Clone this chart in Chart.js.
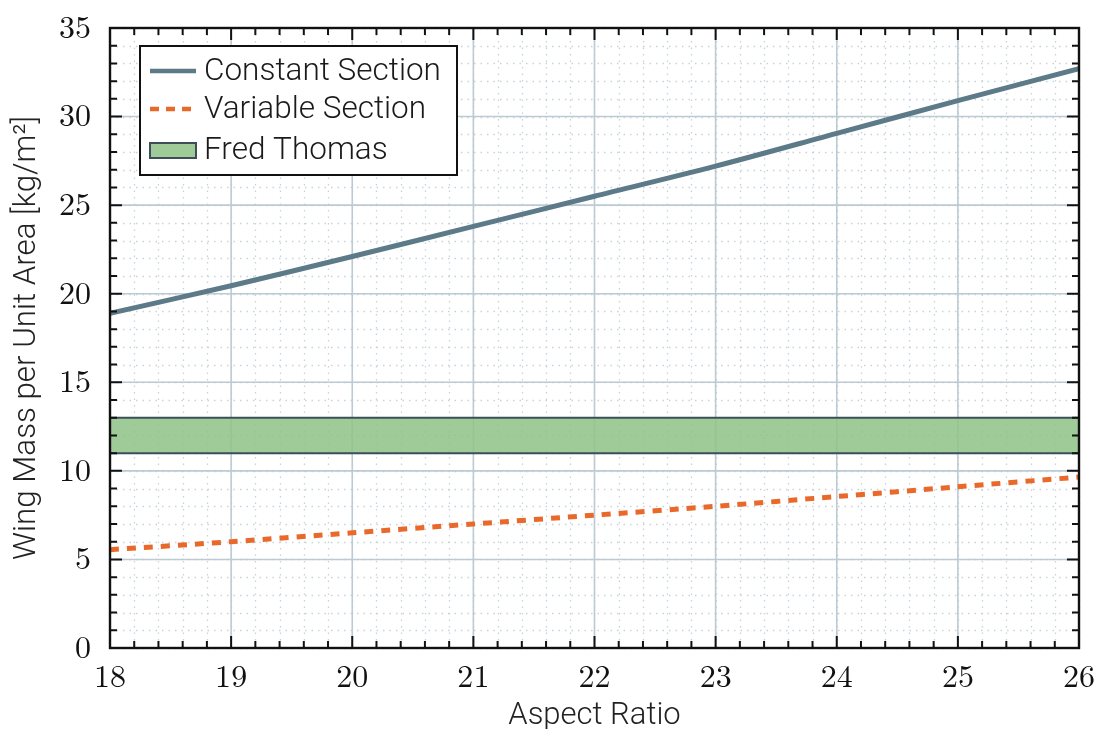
<!DOCTYPE html>
<html>
<head>
<meta charset="utf-8">
<script src="https://cdn.jsdelivr.net/npm/chart.js@4.4.1/dist/chart.umd.min.js"></script>
<style>
	html, body { margin: 0; padding: 0; background: #fff; }
	#wrap { width: 1097px; height: 729px; }
</style>
</head>
<body>
<div id="wrap"><canvas id="wingChart"></canvas></div>
<script>
const aspectRatio = [ 18, 19, 20, 21, 22, 23, 24, 25, 26 ]
const constantSection = [ 18.9, 20.45, 22.1, 23.8, 25.5, 27.2, 29.05, 30.9, 32.7 ]
const variableSection = [ 5.55, 6.0, 6.5, 7.0, 7.5, 8.0, 8.55, 9.1, 9.65 ]
const fredThomasLow = [ 11, 11 ]
const fredThomasHigh = [ 13, 13 ]
const bandX = [ 18, 26 ]

const serif = '"Latin Modern Roman", "DejaVu Serif", serif'
const sans = 'Roboto, "Noto Sans", sans-serif'
const majorGrid = '#bccad3'
const minorGrid = '#c5d3dc'

const toPoints = (xs, ys) => xs.map((x, i) => ({ x, y: ys[i] }))

// grid, frame and inward ticks
const framePlugin = {
	id: 'frame',
	beforeDatasetsDraw(chart) {
		const { ctx, chartArea: a, scales: { x, y } } = chart
		ctx.save()
		ctx.lineWidth = 1.3
		ctx.strokeStyle = minorGrid
		ctx.setLineDash([ 1.5, 5 ])
		for (let v = 18; v <= 26.001; v += 0.2) {
			const px = Math.round(x.getPixelForValue(v)) + 0.5
			ctx.beginPath(); ctx.moveTo(px, a.top); ctx.lineTo(px, a.bottom); ctx.stroke()
		}
		for (let v = 0; v <= 35; v += 1) {
			const py = Math.round(y.getPixelForValue(v)) + 0.5
			ctx.beginPath(); ctx.moveTo(a.left, py); ctx.lineTo(a.right, py); ctx.stroke()
		}
		ctx.setLineDash([])
		ctx.lineWidth = 1.6
		ctx.strokeStyle = majorGrid
		for (let v = 18; v <= 26; v += 1) {
			const px = x.getPixelForValue(v)
			ctx.beginPath(); ctx.moveTo(px, a.top); ctx.lineTo(px, a.bottom); ctx.stroke()
		}
		for (let v = 0; v <= 35; v += 5) {
			const py = y.getPixelForValue(v)
			ctx.beginPath(); ctx.moveTo(a.left, py); ctx.lineTo(a.right, py); ctx.stroke()
		}
		ctx.restore()
	},
	afterDatasetsDraw(chart) {
		const { ctx, chartArea: a, scales: { x, y } } = chart
		ctx.save()
		ctx.strokeStyle = '#111'
		ctx.lineWidth = 2
		for (let i = 0; i <= 40; i++) {
			const v = 18 + i * 0.2
			const px = x.getPixelForValue(v)
			const len = i % 5 === 0 ? 12 : 7
			ctx.beginPath()
			ctx.moveTo(px, a.bottom); ctx.lineTo(px, a.bottom - len)
			ctx.moveTo(px, a.top); ctx.lineTo(px, a.top + len)
			ctx.stroke()
		}
		for (let v = 0; v <= 35; v++) {
			const py = y.getPixelForValue(v)
			const len = v % 5 === 0 ? 12 : 7
			ctx.beginPath()
			ctx.moveTo(a.left, py); ctx.lineTo(a.left + len, py)
			ctx.moveTo(a.right, py); ctx.lineTo(a.right - len, py)
			ctx.stroke()
		}
		ctx.lineWidth = 2.4
		ctx.strokeRect(a.left, a.top, a.right - a.left, a.bottom - a.top)
		ctx.restore()
	},
	afterDraw(chart) {
		const { ctx, chartArea: a } = chart
		const ds = chart.data.datasets
		const bx = a.left + 30, by = a.top + 18, bw = 317, bh = 129
		ctx.save()
		ctx.fillStyle = '#fff'
		ctx.fillRect(bx, by, bw, bh)
		ctx.strokeStyle = '#111'
		ctx.lineWidth = 2
		ctx.strokeRect(bx, by, bw, bh)
		const rows = [ by + 25, by + 63, by + 104 ]
		ctx.font = '300 31.5px ' + sans
		ctx.textBaseline = 'middle'
		// constant
		ctx.strokeStyle = ds[0].borderColor
		ctx.lineWidth = 4.5
		ctx.beginPath(); ctx.moveTo(bx + 10, rows[0]); ctx.lineTo(bx + 56, rows[0]); ctx.stroke()
		// variable
		ctx.strokeStyle = ds[1].borderColor
		ctx.setLineDash([ 9, 7 ])
		ctx.beginPath(); ctx.moveTo(bx + 10, rows[1]); ctx.lineTo(bx + 56, rows[1]); ctx.stroke()
		ctx.setLineDash([])
		// band
		ctx.fillStyle = ds[3].backgroundColor
		ctx.fillRect(bx + 10, rows[2] - 7, 46, 15)
		ctx.strokeStyle = ds[3].borderColor
		ctx.lineWidth = 2
		ctx.strokeRect(bx + 10, rows[2] - 7, 46, 15)
		ctx.fillStyle = '#1a1a1a'
		ctx.fillText(ds[0].label, bx + 64, rows[0] + 1)
		ctx.fillText(ds[1].label, bx + 64, rows[1] + 1)
		ctx.fillText(ds[3].label, bx + 64, rows[2] + 1)
		ctx.restore()
	}
}

new Chart(document.getElementById('wingChart'), {
	type: 'line',
	data: {
		datasets: [ {
			label: 'Constant Section',
			data: toPoints(aspectRatio, constantSection),
			borderColor: '#5d7a89',
			borderWidth: 5,
			pointRadius: 0,
			tension: 0.3,
			fill: false
		}, {
			label: 'Variable Section',
			data: toPoints(aspectRatio, variableSection),
			borderColor: '#e8692a',
			borderWidth: 5,
			borderDash: [ 9, 8 ],
			pointRadius: 0,
			tension: 0.3,
			fill: false
		}, {
			label: 'Fred Thomas low',
			data: toPoints(bandX, fredThomasLow),
			borderColor: '#3d4e5a',
			borderWidth: 2,
			pointRadius: 0,
			fill: false
		}, {
			label: 'Fred Thomas',
			data: toPoints(bandX, fredThomasHigh),
			borderColor: '#3d4e5a',
			backgroundColor: 'rgba(145, 196, 138, 0.88)',
			borderWidth: 2,
			pointRadius: 0,
			fill: '-1'
		} ]
	},
	options: {
		responsive: true,
		maintainAspectRatio: false,
		animation: false,
		layout: { padding: { top: 28, right: 18, left: 0, bottom: 0 } },
		plugins: {
			legend: { display: false },
			tooltip: { enabled: false }
		},
		scales: {
			x: {
				type: 'linear',
				min: 18,
				max: 26,
				grid: { display: false },
				border: { display: false },
				ticks: {
					stepSize: 1,
					padding: 2,
					color: '#111',
					font: { family: serif, size: 32 },
					maxRotation: 0
				},
				title: {
					display: true,
					text: 'Aspect Ratio',
					color: '#222',
					font: { family: sans, size: 31, weight: 300, lineHeight: 1 },
					padding: { top: 0, bottom: -3 }
				},
				afterFit(scale) {
					scale.height = 81
					scale.paddingLeft = 0
					scale.paddingRight = 0
				}
			},
			y: {
				min: 0,
				max: 35,
				grid: { display: false },
				border: { display: false },
				ticks: {
					stepSize: 5,
					padding: 11,
					color: '#111',
					font: { family: serif, size: 32 }
				},
				title: {
					display: true,
					text: 'Wing Mass per Unit Area [kg/m²]',
					color: '#222',
					font: { family: sans, size: 31.3, weight: 300, lineHeight: 1 },
					padding: { top: 12, bottom: 0 }
				},
				afterFit(scale) {
					scale.width = 110
					scale.paddingTop = 0
					scale.paddingBottom = 0
				}
			}
		}
	},
	plugins: [ framePlugin ]
})
</script>
</body>
</html>
